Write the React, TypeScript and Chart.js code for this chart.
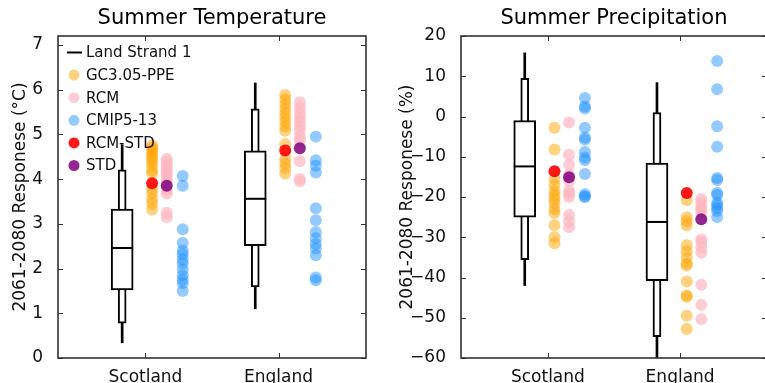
import React, { useEffect, useRef } from 'react';
import { Chart, registerables } from 'chart.js';

Chart.register(...registerables);

// ---------- data ----------
const categories = ['Scotland', 'England'];
const legendNames = ['Land Strand 1', 'GC3.05-PPE', 'RCM', 'CMIP5-13', 'RCM-STD', 'STD'];

const tempTicks = [0, 1, 2, 3, 4, 5, 6, 7];
const precipTicks = [-60, -50, -40, -30, -20, -10, 0, 10, 20];

// box stats: [lineMin, narrowLow, q1, median, q3, narrowHigh, lineMax]
const tempBoxScotland = [0.34, 0.78, 1.52, 2.46, 3.33, 4.21, 4.77];
const tempBoxEngland = [1.1, 1.59, 2.51, 3.56, 4.63, 5.57, 6.15];
const tempPPEScotland = [4.75, 4.7, 4.65, 4.58, 4.52, 4.45, 4.38, 4.3, 4.2, 4.12, 3.78, 3.68, 3.55, 3.45, 3.32];
const tempPPEEngland = [5.88, 5.78, 5.68, 5.58, 5.48, 5.38, 5.28, 5.18, 5.08, 4.78, 4.45, 4.35, 4.25, 4.12];
const tempRCMScotland = [4.45, 4.38, 4.3, 4.22, 4.15, 4.08, 4.0, 3.92, 3.75, 3.68, 3.25, 3.15];
const tempRCMEngland = [5.72, 5.6, 5.48, 5.38, 5.28, 5.18, 5.08, 4.95, 4.85, 4.4, 4.0, 3.95];
const tempCMIPScotland = [4.07, 3.85, 2.88, 2.57, 2.4, 2.32, 2.2, 2.12, 1.98, 1.85, 1.75, 1.67, 1.5];
const tempCMIPEngland = [4.95, 4.42, 4.3, 4.15, 3.35, 3.08, 2.82, 2.68, 2.55, 2.45, 2.3, 1.8, 1.74];
const tempRCMSTD = [3.91, 4.64];
const tempSTD = [3.85, 4.69];

const precipBoxScotland = [-42, -35.6, -25, -12.4, -1, 9.5, 15.8];
const precipBoxEngland = [-61, -54.7, -40.8, -26.2, -11.6, 1.0, 8.4];
const precipPPEScotland = [-2.8, -8.2, -15.5, -17.0, -18.5, -19.5, -20.5, -21.5, -23.0, -24.0, -27.0, -30.0, -31.5];
const precipPPEEngland = [-20.8, -25.0, -26.0, -27.0, -32.0, -33.5, -35.0, -36.5, -37.0, -41.0, -44.5, -44.8, -49.5, -52.8];
const precipRCMScotland = [-1.5, -9.5, -12.0, -14.5, -16.0, -18.5, -19.2, -20.0, -24.5, -26.0, -27.5];
const precipRCMEngland = [-20.5, -21.5, -22.5, -23.0, -23.8, -30.5, -31.2, -32.5, -33.8, -41.8, -46.8, -50.3];
const precipCMIPScotland = [4.6, 2.5, 2.0, -2.8, -5.2, -5.8, -8.8, -10.2, -10.8, -14.3, -19.3, -19.8, -20.0];
const precipCMIPEngland = [13.8, 6.8, -2.4, -7.5, -15.3, -15.8, -19.0, -19.5, -21.5, -22.0, -22.8, -23.5, -25.0];
const precipRCMSTD = [-13.6, -19.0];
const precipSTD = [-15.1, -25.5];

// ---------- styling ----------
const FONT = 'DejaVu Sans';
const OFF_BOX = -0.175;
const OFF_PPE = 0.05;
const OFF_RCM = 0.16;
const OFF_CMIP = 0.28;
const C_PPE = 'rgba(255,165,0,0.5)';
const C_RCM = 'rgba(255,182,193,0.7)';
const C_CMIP = 'rgba(30,144,255,0.48)';
const C_RCMSTD = 'rgba(255,0,0,0.9)';
const C_STD = 'rgba(128,0,128,0.85)';

type PanelData = {
  title: string;
  yTitle: string;
  ticks: number[];
  yMin: number;
  yMax: number;
  boxes: number[][];
  ppe: number[][];
  rcm: number[][];
  cmip: number[][];
  rcmStd: number[];
  std: number[];
};

const pts = (groups: number[][], off: number) =>
  groups.flatMap((g, i) => g.map((v) => ({ x: i + 1 + off, y: v })));

function buildDatasets(p: PanelData): any[] {
  const bar = (lo: number, hi: number, thick: number, fill: string, bw: number, order: number) => ({
    type: 'bar',
    data: p.boxes.map((b, i) => ({ x: i + 1 + OFF_BOX, y: [b[lo], b[hi]] })),
    barThickness: thick,
    backgroundColor: fill,
    borderColor: '#000',
    borderWidth: bw,
    borderSkipped: false,
    grouped: false,
    order,
  });
  const scatter = (data: any[], color: string, order: number, extra: any = {}) => ({
    type: 'scatter',
    data,
    backgroundColor: color,
    borderColor: color,
    borderWidth: 0,
    pointRadius: 6,
    order,
    ...extra,
  });
  return [
    bar(0, 6, 2, '#000', 0, 20),
    bar(1, 5, 8, '#fff', 2, 19),
    bar(2, 4, 22, '#fff', 2, 18),
    scatter(
      p.boxes.map((b, i) => ({ x: i + 1 + OFF_BOX, y: b[3] })),
      '#000',
      17,
      { pointStyle: 'line', pointRadius: 11, borderWidth: 2, borderColor: '#000' }
    ),
    scatter(pts(p.ppe, OFF_PPE), C_PPE, 16),
    scatter(pts(p.rcm, OFF_RCM), C_RCM, 15),
    scatter(pts(p.cmip, OFF_CMIP), C_CMIP, 14),
    scatter(p.rcmStd.map((v, i) => ({ x: i + 1 + OFF_PPE, y: v })), C_RCMSTD, 13),
    scatter(p.std.map((v, i) => ({ x: i + 1 + OFF_RCM, y: v })), C_STD, 12),
  ];
}

const framePlugin = {
  id: 'frame',
  afterDatasetsDraw(chart: any) {
    const { ctx, chartArea, scales } = chart;
    const { left, right, top, bottom } = chartArea;
    const tl = 5;
    ctx.save();
    ctx.strokeStyle = '#333';
    ctx.lineWidth = 1;
    const line = (x1: number, y1: number, x2: number, y2: number) => {
      ctx.beginPath();
      ctx.moveTo(x1, y1);
      ctx.lineTo(x2, y2);
      ctx.stroke();
    };
    scales.y.ticks.forEach((t: any) => {
      const y = Math.round(scales.y.getPixelForValue(t.value)) + 0.5;
      line(left, y, left + tl, y);
      line(right, y, right - tl, y);
    });
    scales.x.ticks.forEach((t: any) => {
      const x = Math.round(scales.x.getPixelForValue(t.value)) + 0.5;
      line(x, bottom, x, bottom - tl);
      line(x, top, x, top + tl);
    });
    ctx.lineWidth = 1.6;
    ctx.strokeRect(left, top, right - left, bottom - top);
    ctx.restore();
  },
};

const legendPlugin = {
  id: 'customLegend',
  afterDraw(chart: any) {
    const { ctx, chartArea } = chart;
    const colors = ['', C_PPE, C_RCM, C_CMIP, C_RCMSTD, C_STD];
    const mx = chartArea.left + 16;
    const tx = chartArea.left + 28;
    const y0 = chartArea.top + 16.5;
    const step = 22.6;
    ctx.save();
    ctx.font = `15px "${FONT}"`;
    ctx.textBaseline = 'middle';
    ctx.textAlign = 'left';
    legendNames.forEach((name, i) => {
      const y = y0 + i * step;
      if (i === 0) {
        ctx.strokeStyle = '#000';
        ctx.lineWidth = 2;
        ctx.beginPath();
        ctx.moveTo(mx - 7, y);
        ctx.lineTo(mx + 8, y);
        ctx.stroke();
      } else {
        ctx.fillStyle = colors[i];
        ctx.beginPath();
        ctx.arc(mx, y, 5.5, 0, Math.PI * 2);
        ctx.fill();
      }
      ctx.fillStyle = '#111';
      ctx.fillText(name, tx, y + 1);
    });
    ctx.restore();
  },
};

function makeConfig(p: PanelData, yAxisWidth: number, titlePad: number, padRight: number, withLegend: boolean): any {
  return {
    type: 'bar',
    data: { datasets: buildDatasets(p) },
    options: {
      responsive: false,
      animation: false,
      events: [],
      layout: { padding: { left: 0, right: padRight, top: 0, bottom: 0 } },
      plugins: {
        legend: { display: false },
        tooltip: { enabled: false },
        title: {
          display: true,
          fullSize: false,
          text: p.title,
          color: '#000',
          font: { family: FONT, size: 21, weight: 'normal', lineHeight: 1.2 },
          padding: { top: 6, bottom: 4.8 },
        },
      },
      scales: {
        x: {
          type: 'linear',
          min: 0.343,
          max: 2.657,
          offset: false,
          grid: { display: false },
          border: { display: false },
          afterBuildTicks: (s: any) => {
            s.ticks = categories.map((_, i) => ({ value: i + 1 }));
          },
          afterFit: (s: any) => {
            s.height = 25;
          },
          ticks: {
            autoSkip: false,
            maxRotation: 0,
            padding: 1,
            color: '#111',
            font: { family: FONT, size: 17 },
            callback: (v: number) => categories[Math.round(v) - 1] ?? '',
          },
        },
        y: {
          type: 'linear',
          min: p.yMin,
          max: p.yMax,
          grid: { display: false },
          border: { display: false },
          afterBuildTicks: (s: any) => {
            s.ticks = p.ticks.map((v) => ({ value: v }));
          },
          afterFit: (s: any) => {
            s.width = yAxisWidth;
          },
          ticks: {
            padding: 7,
            color: '#111',
            font: { family: FONT, size: 17 },
            callback: (v: number) => (v < 0 ? '\u2212' + Math.abs(v) : String(v)),
          },
          title: {
            display: true,
            text: p.yTitle,
            color: '#111',
            font: { family: FONT, size: 17, lineHeight: 1.2 },
            padding: { top: titlePad, bottom: 0 },
          },
        },
      },
    },
    plugins: withLegend ? [framePlugin, legendPlugin] : [framePlugin],
  };
}

const tempPanel: PanelData = {
  title: 'Summer Temperature',
  yTitle: '2061-2080 Responese (\u00B0C)',
  ticks: tempTicks,
  yMin: 0,
  yMax: 7.2,
  boxes: [tempBoxScotland, tempBoxEngland],
  ppe: [tempPPEScotland, tempPPEEngland],
  rcm: [tempRCMScotland, tempRCMEngland],
  cmip: [tempCMIPScotland, tempCMIPEngland],
  rcmStd: tempRCMSTD,
  std: tempSTD,
};

const precipPanel: PanelData = {
  title: 'Summer Precipitation',
  yTitle: '2061-2080 Responese (%)',
  ticks: precipTicks,
  yMin: -60,
  yMax: 20,
  boxes: [precipBoxScotland, precipBoxEngland],
  ppe: [precipPPEScotland, precipPPEEngland],
  rcm: [precipRCMScotland, precipRCMEngland],
  cmip: [precipCMIPScotland, precipCMIPEngland],
  rcmStd: precipRCMSTD,
  std: precipSTD,
};

export default function App() {
  const leftRef = useRef<HTMLCanvasElement>(null);
  const rightRef = useRef<HTMLCanvasElement>(null);

  useEffect(() => {
    const c1 = new Chart(leftRef.current as HTMLCanvasElement, makeConfig(tempPanel, 58, 10, 14, true));
    const c2 = new Chart(rightRef.current as HTMLCanvasElement, makeConfig(precipPanel, 81, 17, 12, false));
    return () => {
      c1.destroy();
      c2.destroy();
    };
  }, []);

  return (
    <div
      style={{
        position: 'fixed',
        left: 0,
        top: 0,
        width: 765,
        height: 383,
        overflow: 'hidden',
        background: '#fff',
      }}
    >
      <canvas ref={leftRef} width={380} height={383} style={{ position: 'absolute', left: 0, top: 0 }} />
      <canvas ref={rightRef} width={400} height={383} style={{ position: 'absolute', left: 380, top: 0 }} />
    </div>
  );
}
